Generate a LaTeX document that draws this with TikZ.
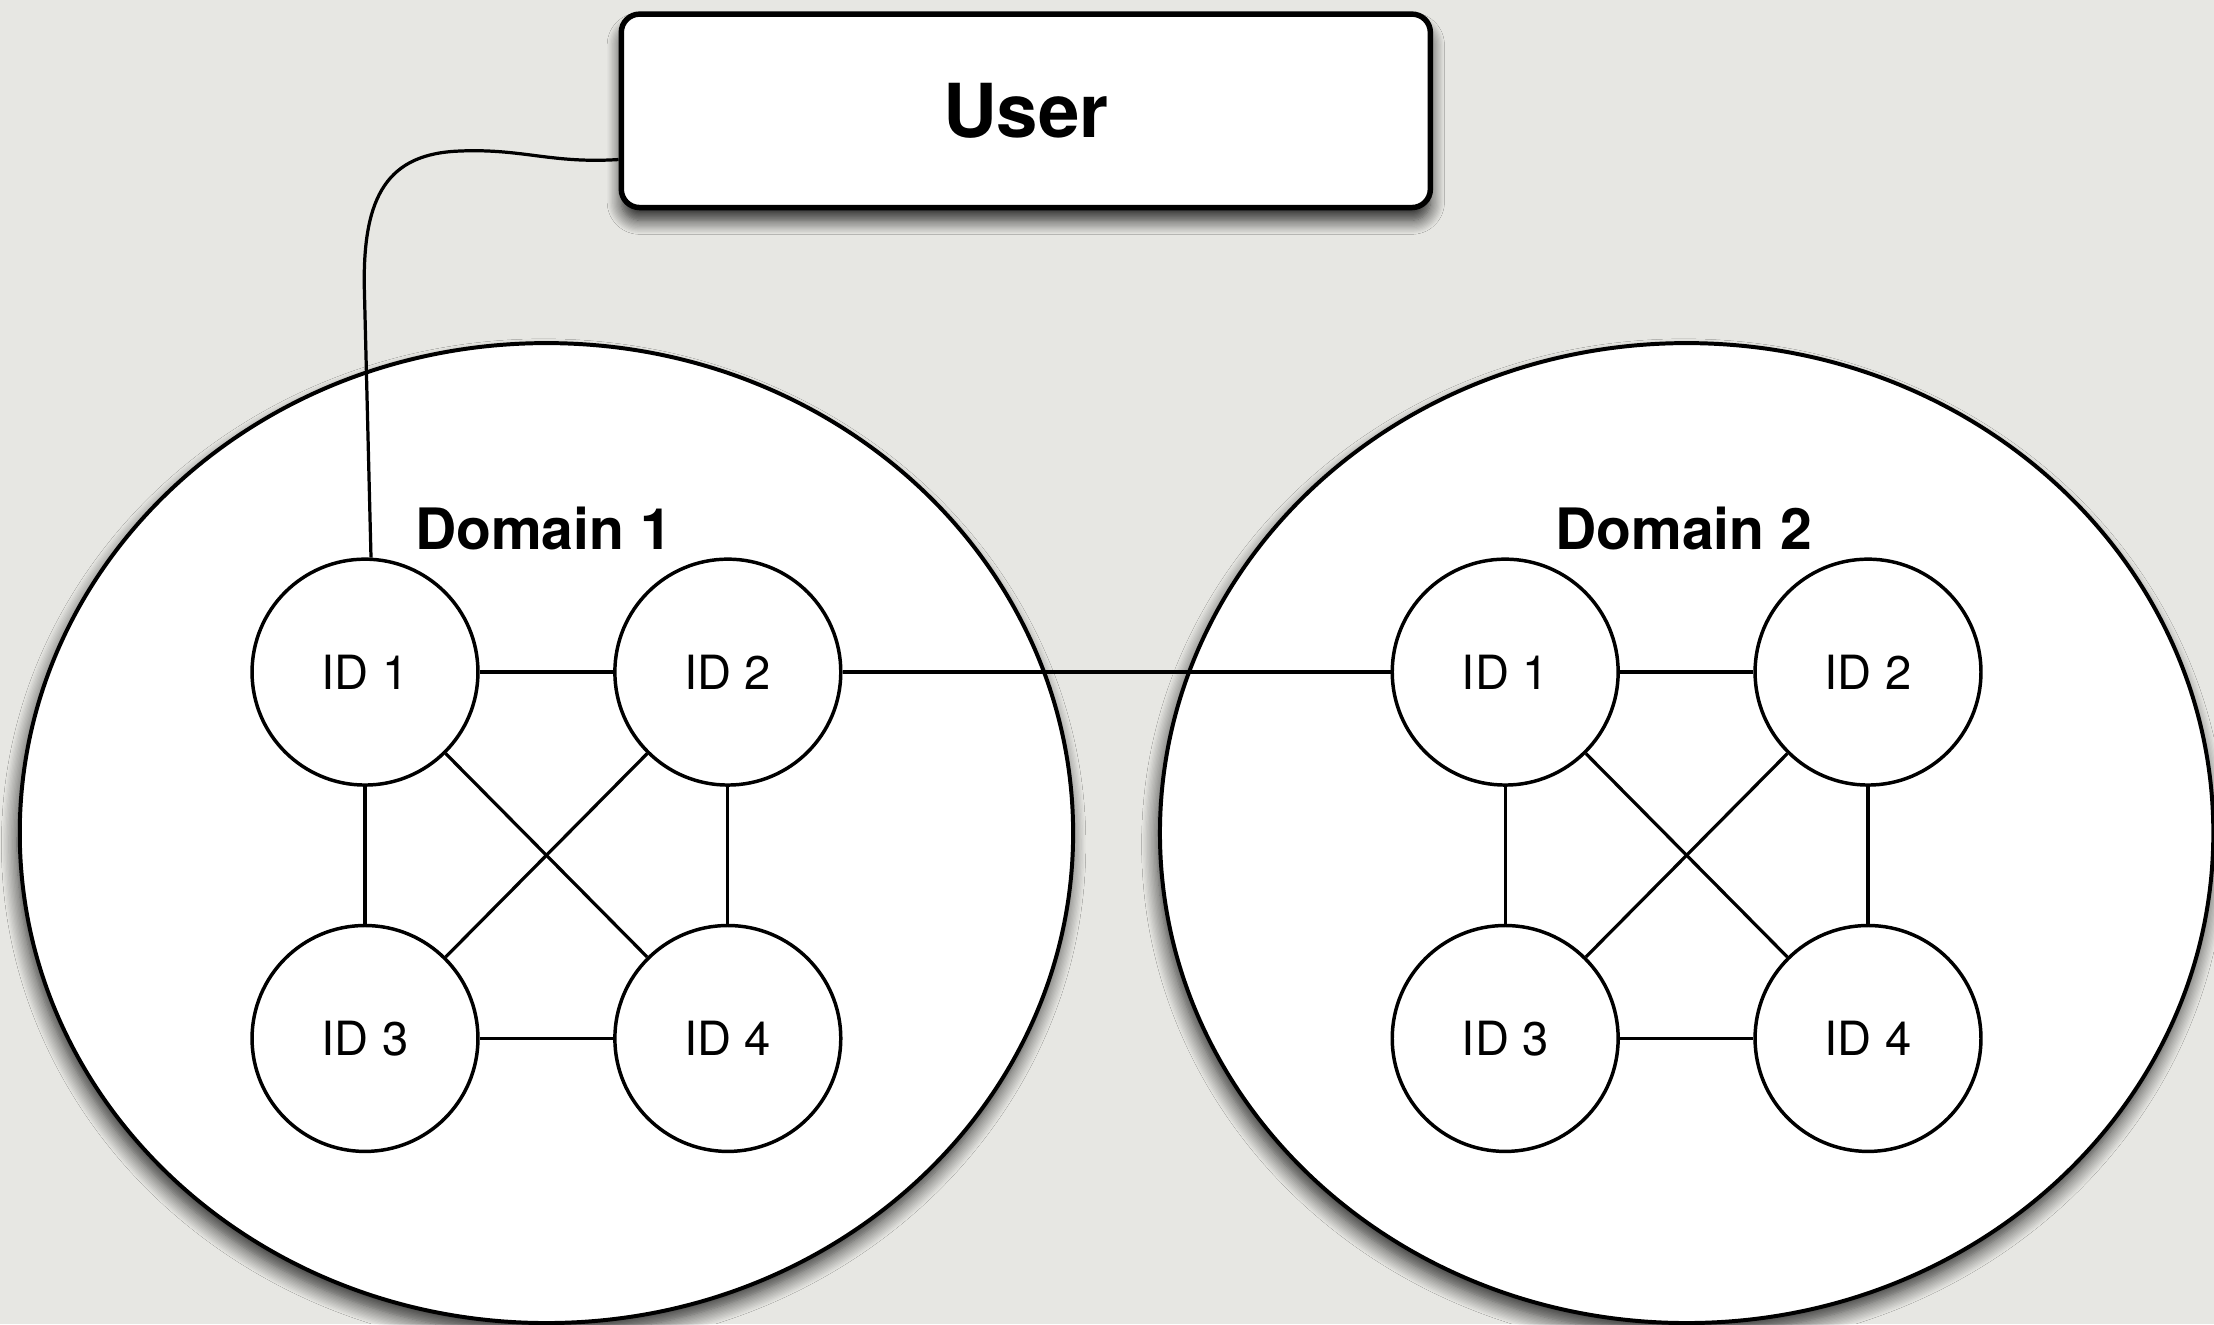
\documentclass[tikz,border=0pt]{standalone}
\usepackage{fontspec}
\setmainfont{TeX Gyre Heros}
\usetikzlibrary{positioning,shapes.geometric,shadows.blur}

\definecolor{paper}{RGB}{231,231,227}

\tikzset{
  domring/.style={ellipse,draw,line width=0.8pt,fill=white,inner sep=0pt,
    minimum width=7.46cm,minimum height=6.94cm,
    blur shadow={shadow xshift=-0.2mm,shadow yshift=-0.8mm,shadow blur radius=1.1mm,
      shadow blur steps=12,shadow opacity=80}},
  usrbox/.style={rectangle,rounded corners=1.3mm,draw,line width=1.1pt,fill=white,
    minimum width=5.73cm,minimum height=1.37cm,font=\fontsize{15}{18}\selectfont\bfseries,
    blur shadow={shadow xshift=0pt,shadow yshift=-0.9mm,shadow blur radius=1mm,
      shadow blur steps=12,shadow opacity=85}},
  idnode/.style={circle,draw,line width=0.7pt,fill=white,minimum size=1.6cm,inner sep=0pt,
    font=\fontsize{9.5}{11}\selectfont},
  domlabel/.style={font=\fontsize{11.5}{14}\selectfont\bfseries},
  wire/.style={line width=0.65pt},
}

\begin{document}
\begin{tikzpicture}
	% backdrop
	\fill[paper] (0,0) rectangle (15.68,9.38);
	\useasboundingbox (0,0) rectangle (15.68,9.38);

	\node[usrbox] (user) at (7.265,8.595) {User};

	% two domains, each a full mesh of four IDs
	\foreach \d/\x in {1/3.87,2/11.945} {
		\node[domring] (dom\d) at (\x,3.48) {};
		\node[domlabel] (lbl\d) at (\x-0.02,5.64) {Domain \d};
		\node[idnode] (d\d-id1) at (\x-1.285,4.62) {ID 1};
		\node[idnode,right=0.945cm of d\d-id1] (d\d-id2) {ID 2};
		\node[idnode,below=0.97cm of d\d-id1] (d\d-id3) {ID 3};
		\node[idnode,below=0.97cm of d\d-id2] (d\d-id4) {ID 4};
		\draw[wire] (d\d-id1) -- (d\d-id2);
		\draw[wire] (d\d-id3) -- (d\d-id4);
		\draw[wire] (d\d-id1) -- (d\d-id3);
		\draw[wire] (d\d-id2) -- (d\d-id4);
		\draw[wire] (d\d-id1) -- (d\d-id4);
		\draw[wire] (d\d-id2) -- (d\d-id3);
	}

	% link between the domains
	\draw[wire] (d1-id2) -- (d2-id1);

	% user attached to the first ID of domain 1
	\draw[wire] ([yshift=-3.45mm]user.west) .. controls (3.9,8.22) and (3.7,8.33) .. (3.25,8.31)
		.. controls (2.75,8.29) and (2.57,8.0) .. (2.58,7.35) -- (d1-id1.87);
\end{tikzpicture}
\end{document}
